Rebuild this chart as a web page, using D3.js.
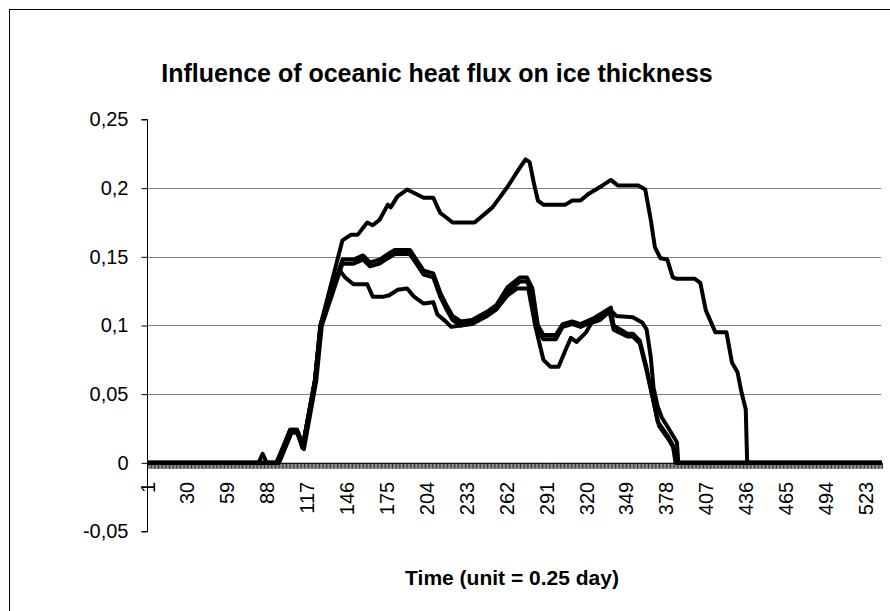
<!DOCTYPE html>
<html>
<head>
<meta charset="utf-8">
<script src="https://cdn.jsdelivr.net/npm/d3@7"></script>
<style>
  html, body { margin: 0; padding: 0; background: #fff; }
  svg { display: block; font-family: "Liberation Sans", Arial, sans-serif; }
</style>
</head>
<body>
<svg id="chart" width="890" height="611"></svg>
<script>
// ---------------- data ----------------
const chartTitle = "Influence of oceanic heat flux on ice thickness";
const xTitle = "Time (unit = 0.25 day)";
const categoryCount = 535;               // time steps 1..535
const xTickLabels = [1, 30, 59, 88, 117, 146, 175, 204, 233, 262, 291, 320, 349, 378, 407, 436, 465, 494, 523];
const yTickValues = [-0.05, 0, 0.05, 0.1, 0.15, 0.2, 0.25];
const yGridValues = [0.05, 0.1, 0.15, 0.2];

// each series: [time step, ice thickness] read at the visible breakpoints
const seriesHighFlux = [
  [1,0],[95,0],[105,0.024],[110,0.024],[114,0.011],[123,0.06],[127,0.1],[143,0.162],[149,0.166],[154,0.166],
  [161,0.175],[165,0.173],[170,0.177],[176,0.188],[178,0.186],[183,0.194],[190,0.199],[202,0.193],[209,0.193],
  [214,0.182],[218,0.179],[223,0.175],[239,0.175],[252,0.186],[263,0.201],[270,0.212],[276,0.221],[279,0.219],
  [282,0.204],[285,0.191],[289,0.188],[305,0.188],[310,0.191],[316,0.191],[322,0.196],[332,0.202],[338,0.206],
  [343,0.202],[358,0.202],[363,0.199],[367,0.177],[370,0.157],[374,0.149],[379,0.148],[383,0.135],[386,0.134],
  [399,0.134],[403,0.131],[407,0.111],[414,0.095],[422,0.095],[426,0.073],[430,0.066],[433,0.051],[436,0.039],
  [437,0.002],[438,0],[535,0]
];
const seriesMidFluxA = [
  [1,0],[96,0],[105,0.024],[110,0.024],[114,0.011],[123,0.06],[127,0.1],[143,0.148],[151,0.148],[158,0.151],
  [163,0.146],[170,0.148],[176,0.152],[181,0.155],[192,0.155],[198,0.146],[202,0.14],[209,0.138],[214,0.124],
  [219,0.114],[223,0.107],[229,0.103],[237,0.104],[248,0.11],[255,0.115],[263,0.128],[272,0.135],[277,0.135],
  [281,0.127],[285,0.1],[289,0.093],[298,0.093],[303,0.101],[310,0.103],[316,0.101],[325,0.105],[338,0.113],
  [340,0.1],[350,0.094],[354,0.094],[359,0.089],[364,0.069],[369,0.045],[372,0.03],[379,0.02],[383,0.013],
  [385,0],[535,0]
];
const seriesMidFluxB = [
  [1,0],[82,0],[85,0.0065],[88,0],[97,0],[106,0.022],[111,0.022],[115,0.01],[124,0.06],[128,0.1],[143,0.145],
  [151,0.145],[158,0.148],[163,0.143],[170,0.145],[176,0.149],[181,0.152],[192,0.152],[198,0.143],[202,0.137],
  [209,0.135],[214,0.121],[219,0.111],[223,0.104],[229,0.1],[237,0.101],[248,0.107],[255,0.112],[263,0.125],
  [272,0.132],[277,0.132],[281,0.124],[285,0.097],[289,0.09],[298,0.09],[303,0.099],[310,0.101],[316,0.099],
  [325,0.103],[337,0.11],[340,0.097],[350,0.092],[354,0.092],[359,0.087],[364,0.067],[370,0.04],[373,0.027],
  [380,0.017],[384,0.01],[386,0],[535,0]
];
const seriesLowFlux = [
  [1,0],[95,0],[105,0.022],[110,0.022],[114,0.011],[123,0.06],[127,0.1],[138,0.135],[141,0.14],[145,0.135],
  [151,0.13],[161,0.13],[165,0.121],[173,0.121],[177,0.122],[183,0.126],[190,0.127],[195,0.121],[202,0.116],
  [209,0.117],[212,0.108],[218,0.103],[222,0.099],[229,0.1],[237,0.102],[248,0.107],[255,0.112],[263,0.122],
  [270,0.127],[278,0.127],[283,0.1],[289,0.075],[294,0.07],[300,0.07],[305,0.082],[309,0.091],[313,0.088],
  [320,0.095],[324,0.102],[330,0.104],[338,0.111],[342,0.107],[354,0.106],[361,0.102],[364,0.097],[367,0.077],
  [369,0.055],[372,0.041],[375,0.033],[380,0.025],[386,0.015],[387,0],[535,0]
];
const allSeries = [seriesLowFlux, seriesMidFluxB, seriesMidFluxA, seriesHighFlux];

// ---------------- drawing ----------------
const svg = d3.select("#chart");
const plot = { left: 147, right: 882, top: 119.5, bottom: 531.5 };

// chart-area frame (extends past the picture on the right and bottom)
svg.append("rect").attr("x", 9.5).attr("y", 9.5).attr("width", 890).attr("height", 620)
  .attr("fill", "#fff").attr("stroke", "#000").attr("stroke-width", 1);

const x = d3.scaleLinear().domain([1, categoryCount]).range([plot.left, plot.right]);
const y = d3.scaleLinear().domain([-0.05, 0.25]).range([plot.bottom, plot.top]);
const fmt = v => (v < 0 ? "-" : "") + d3.format(".2~f")(Math.abs(v)).replace(".", ",");

// gridlines
svg.append("g").selectAll("line").data(yGridValues).join("line")
  .attr("x1", plot.left).attr("x2", plot.right - 1)
  .attr("y1", d => Math.round(y(d)) + 0.5).attr("y2", d => Math.round(y(d)) + 0.5)
  .attr("stroke", "#808080").attr("stroke-width", 1);

// y axis
const yAxis = svg.append("g").attr("transform", `translate(${plot.left + 0.5},0)`)
  .call(d3.axisLeft(y).tickValues(yTickValues).tickFormat(fmt).tickSize(6).tickPadding(13));
yAxis.select(".domain").attr("stroke", "#000").attr("d", `M-6,${y(0.25)}H0V${y(-0.05)}H-6`);
yAxis.selectAll(".tick line").attr("stroke", "#000");
yAxis.selectAll(".tick text").attr("font-size", 20).attr("fill", "#000")
  .attr("font-family", "Liberation Sans, Arial, sans-serif");

// x axis (category axis crossing at 0, tick at every time step)
const categories = d3.range(1, categoryCount + 1);
const labelSet = new Set(xTickLabels);
const xAxis = svg.append("g").attr("transform", `translate(0,${y(0)})`)
  .call(d3.axisBottom(x).tickValues(categories).tickSize(6)
    .tickFormat(d => labelSet.has(d) ? d : ""));
xAxis.select(".domain").attr("stroke", "#000").attr("d", `M${plot.left},0.5H${plot.right}`);
xAxis.selectAll(".tick line").attr("stroke", "#000").attr("stroke-width", 0.8);
xAxis.selectAll(".tick text")
  .attr("font-size", 20).attr("fill", "#000").attr("font-family", "Liberation Sans, Arial, sans-serif")
  .attr("transform", "rotate(-90)")
  .attr("text-anchor", "end").attr("x", -19).attr("y", 0).attr("dy", "0.35em");

// series lines
const line = d3.line().x(d => x(d[0])).y(d => y(d[1]));
svg.append("g").selectAll("path").data(allSeries).join("path")
  .attr("d", line).attr("fill", "none").attr("stroke", "#000")
  .attr("stroke-width", 4).attr("stroke-linejoin", "round").attr("stroke-linecap", "butt");

// titles
svg.append("text").attr("x", 437).attr("y", 82).attr("text-anchor", "middle")
  .attr("font-size", 25).attr("font-weight", "bold").attr("fill", "#000").text(chartTitle);
svg.append("text").attr("x", 512).attr("y", 585).attr("text-anchor", "middle")
  .attr("font-size", 21).attr("font-weight", "bold").attr("fill", "#000").text(xTitle);
</script>
</body>
</html>
